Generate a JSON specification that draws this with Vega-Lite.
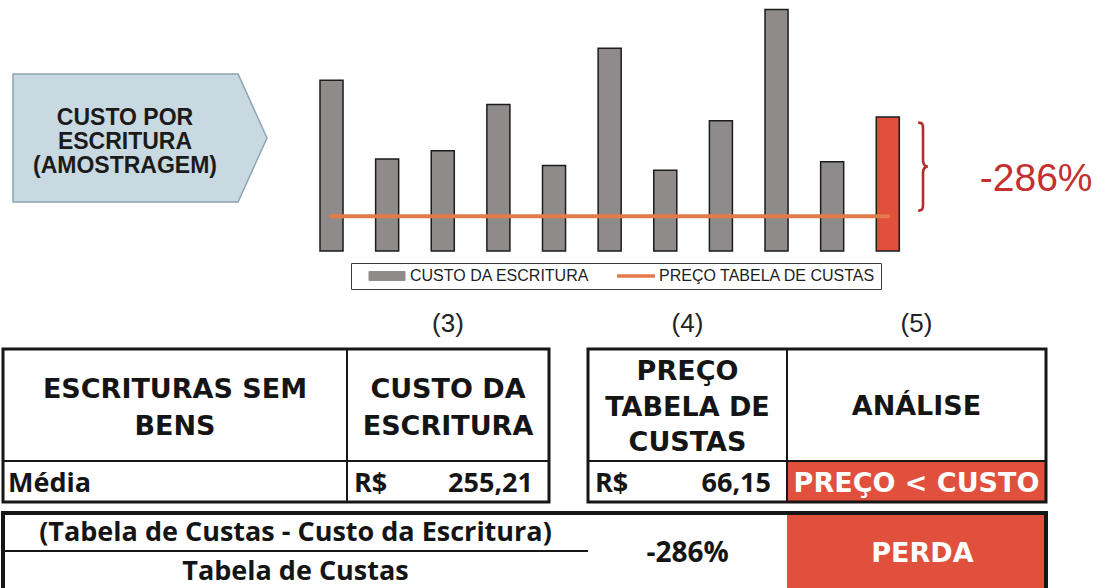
{
  "$schema": "https://vega.github.io/schema/vega-lite/v6.json",
  "width": 1105,
  "height": 588,
  "autosize": {"type": "none"},
  "padding": 0,
  "background": "#ffffff",
  "config": {"view": {"stroke": null}},
  "datasets": {
    "custos": [
      {"escritura": "Escritura 1", "custo": 325, "serie": "CUSTO DA ESCRITURA"},
      {"escritura": "Escritura 2", "custo": 175, "serie": "CUSTO DA ESCRITURA"},
      {"escritura": "Escritura 3", "custo": 191, "serie": "CUSTO DA ESCRITURA"},
      {"escritura": "Escritura 4", "custo": 279, "serie": "CUSTO DA ESCRITURA"},
      {"escritura": "Escritura 5", "custo": 163, "serie": "CUSTO DA ESCRITURA"},
      {"escritura": "Escritura 6", "custo": 386, "serie": "CUSTO DA ESCRITURA"},
      {"escritura": "Escritura 7", "custo": 154, "serie": "CUSTO DA ESCRITURA"},
      {"escritura": "Escritura 8", "custo": 248, "serie": "CUSTO DA ESCRITURA"},
      {"escritura": "Escritura 9", "custo": 460, "serie": "CUSTO DA ESCRITURA"},
      {"escritura": "Escritura 10", "custo": 170, "serie": "CUSTO DA ESCRITURA"},
      {"escritura": "Média", "custo": 255.21, "serie": "MÉDIA"}
    ],
    "tabela_preco": [
      {"serie": "PREÇO TABELA DE CUSTAS", "preco": 66.15}
    ],
    "anotacao": [
      {"referencia": "MÉDIA", "valor": 255.21, "diferenca": "-286%"},
      {"referencia": "PREÇO TABELA DE CUSTAS", "valor": 66.15, "diferenca": "-286%"}
    ],
    "rotulo": [
      {"rotulo": "CUSTO POR\nESCRITURA\n(AMOSTRAGEM)"}
    ],
    "celulas": [
      {"tabela": "1", "c0": 0, "c1": 1, "l0": 0, "l1": 1, "tipo": "cabecalho", "texto": "ESCRITURAS SEM\nBENS"},
      {"tabela": "1", "c0": 1, "c1": 2, "l0": 0, "l1": 1, "tipo": "cabecalho", "texto": "CUSTO DA\nESCRITURA", "numero": "(3)"},
      {"tabela": "1", "c0": 0, "c1": 1, "l0": 1, "l1": 2, "tipo": "rotulo", "texto": "Média"},
      {"tabela": "1", "c0": 1, "c1": 2, "l0": 1, "l1": 2, "tipo": "valor", "moeda": "R$", "valor": "255,21"},
      {"tabela": "2", "c0": 3, "c1": 4, "l0": 0, "l1": 1, "tipo": "cabecalho", "texto": "PREÇO\nTABELA DE\nCUSTAS", "numero": "(4)"},
      {"tabela": "2", "c0": 4, "c1": 5, "l0": 0, "l1": 1, "tipo": "cabecalho", "texto": "ANÁLISE", "numero": "(5)"},
      {"tabela": "2", "c0": 3, "c1": 4, "l0": 1, "l1": 2, "tipo": "valor", "moeda": "R$", "valor": "66,15"},
      {"tabela": "2", "c0": 4, "c1": 5, "l0": 1, "l1": 2, "tipo": "analise", "texto": "PREÇO < CUSTO"}
    ],
    "tabelas": [
      {"tabela": "1", "c0": 0, "c1": 2, "l0": 0, "l1": 2},
      {"tabela": "2", "c0": 3, "c1": 5, "l0": 0, "l1": 2},
      {"tabela": "3", "c0": 0, "c1": 3, "l0": 0, "l1": 2}
    ],
    "resultado": [
      {"tipo": "numerador", "texto": "(Tabela de Custas - Custo da Escritura)", "c0": 0, "c1": 1, "l0": 0, "l1": 1},
      {"tipo": "denominador", "texto": "Tabela de Custas", "c0": 0, "c1": 1, "l0": 1, "l1": 2},
      {"tipo": "resultado", "texto": "-286%", "c0": 1, "c1": 2, "l0": 0, "l1": 2},
      {"tipo": "analise", "texto": "PERDA", "c0": 2, "c1": 3, "l0": 0, "l1": 2}
    ]
  },
  "layer": [
    {
      "data": {"name": "rotulo"},
      "encoding": {
        "x": {"field": "rotulo", "type": "nominal", "axis": null, "scale": {"type": "band", "range": [13, 267], "paddingInner": 0, "paddingOuter": 0}},
        "y": {"field": "rotulo", "type": "nominal", "axis": null, "scale": {"type": "band", "range": [74, 202], "paddingInner": 0, "paddingOuter": 0}}
      },
      "layer": [
        {"mark": {"type": "point", "shape": "M-1,-0.504L0.772,-0.504L1,0L0.772,0.504L-1,0.504Z", "size": 64516, "filled": true, "fill": "#c9d9e1", "stroke": "#8ea4b1", "strokeWidth": 1.5, "opacity": 1}},
        {"mark": {"type": "text", "font": "Liberation Sans", "fontWeight": "bold", "fontSize": 23, "lineBreak": "\n", "lineHeight": 24, "color": "#1b1b1b", "align": "center", "baseline": "middle", "dx": -15, "dy": -20},
         "encoding": {"text": {"field": "rotulo"}}}
      ]
    },
    {
      "layer": [
        {
          "data": {"name": "custos"},
          "mark": {"type": "bar", "stroke": "#1c1c1c", "strokeWidth": 1.5},
          "encoding": {
            "x": {"field": "escritura", "type": "nominal", "sort": null, "axis": null,
                  "scale": {"domain": ["Escritura 1", "Escritura 2", "Escritura 3", "Escritura 4", "Escritura 5", "Escritura 6", "Escritura 7", "Escritura 8", "Escritura 9", "Escritura 10", "Média"],
                            "range": [303.7, 915.6], "paddingInner": 0.586, "paddingOuter": 0.293}},
            "y": {"field": "custo", "type": "quantitative", "axis": null, "scale": {"domain": [0, 478], "range": [251, 0], "nice": false}},
            "color": {"field": "serie", "type": "nominal",
                      "scale": {"domain": ["CUSTO DA ESCRITURA", "MÉDIA", "PREÇO TABELA DE CUSTAS"], "range": ["#8f8b8b", "#e0503d", "#e27a4a"]},
                      "legend": {
                        "orient": "none", "legendX": 351, "legendY": 263, "direction": "horizontal", "title": null,
                        "values": ["CUSTO DA ESCRITURA", "PREÇO TABELA DE CUSTAS"],
                        "labelFont": "Liberation Sans", "labelFontSize": 16, "labelColor": "#1e1e1e", "labelLimit": 400,
                        "strokeColor": "#3a3a3a", "padding": 5, "symbolSize": 256, "symbolOffset": 23, "labelOffset": 15, "columnPadding": 15,
                        "encoding": {
                          "symbols": {
                            "shape": {"value": {"expr": "datum.value === 'PREÇO TABELA DE CUSTAS' ? 'M-2.375,0H2.375' : 'M-2.25,-0.56H2.25V0.56H-2.25Z'"}},
                            "fill": {"value": {"expr": "datum.value === 'PREÇO TABELA DE CUSTAS' ? 'transparent' : '#8f8b8b'"}},
                            "stroke": {"value": {"expr": "datum.value === 'PREÇO TABELA DE CUSTAS' ? '#e27a4a' : '#222222'"}},
                            "strokeWidth": {"value": {"expr": "datum.value === 'PREÇO TABELA DE CUSTAS' ? 3.5 : 1"}},
                            "opacity": {"value": 1}
                          }
                        }
                      }}
          }
        },
        {
          "data": {"name": "tabela_preco"},
          "mark": {"type": "rule", "strokeWidth": 4},
          "encoding": {
            "x": {"datum": "Escritura 1", "bandPosition": 0.4},
            "x2": {"datum": "Média", "bandPosition": 0.6},
            "y": {"field": "preco", "type": "quantitative"},
            "color": {"field": "serie", "type": "nominal"}
          }
        },
        {
          "data": {"name": "anotacao"},
          "mark": {"type": "point", "shape": "M-0.11,-1C0,-1 0,-0.95 0,-0.85L0,-0.15C0,-0.05 0.04,0 0.11,0C0.04,0 0,0.05 0,0.15L0,0.85C0,0.95 0,1 -0.11,1", "size": 7744, "filled": false, "stroke": "#b52c2a", "strokeWidth": 2.6, "opacity": 1},
          "encoding": {
            "x": {"datum": "Média", "bandPosition": 2.03},
            "y": {"aggregate": "mean", "field": "valor", "type": "quantitative"}
          }
        },
        {
          "data": {"name": "anotacao"},
          "mark": {"type": "text", "font": "Liberation Sans", "fontSize": 39, "color": "#c3302e", "align": "left", "baseline": "middle", "dx": 92, "dy": 12},
          "encoding": {
            "x": {"datum": "Média", "bandPosition": 0.5},
            "y": {"aggregate": "mean", "field": "valor", "type": "quantitative"},
            "text": {"field": "diferenca"}
          }
        }
      ]
    },
    {
      "data": {"name": "celulas"},
      "layer": [
        {
          "mark": {"type": "rect", "stroke": "#161616", "strokeWidth": 2},
          "encoding": {
            "x": {"field": "c0", "type": "quantitative", "axis": null, "scale": {"domain": [0, 1, 2, 3, 4, 5], "range": [3, 347, 549, 588, 787, 1046], "nice": false, "zero": false}},
            "x2": {"field": "c1"},
            "y": {"field": "l0", "type": "quantitative", "axis": null, "scale": {"domain": [0, 1, 2], "range": [349, 461, 502], "nice": false, "zero": false}},
            "y2": {"field": "l1"},
            "fill": {"field": "tipo", "type": "nominal", "legend": null, "scale": {"domain": ["cabecalho", "rotulo", "valor", "analise"], "range": ["#ffffff", "#ffffff", "#ffffff", "#e0503d"]}}
          }
        },
        {
          "data": {"name": "tabelas"},
          "transform": [{"filter": "datum.tabela !== '3'"}],
          "mark": {"type": "rect", "filled": false, "stroke": "#161616", "strokeWidth": 3},
          "encoding": {
            "x": {"field": "c0", "type": "quantitative"},
            "x2": {"field": "c1"},
            "y": {"field": "l0", "type": "quantitative"},
            "y2": {"field": "l1"}
          }
        },
        {
          "transform": [{"filter": "datum.tipo === 'cabecalho' && length(split(datum.texto, '\\n')) === 1"}, {"fold": ["c0", "c1"], "as": ["ck", "cv"]}, {"fold": ["l0", "l1"], "as": ["lk", "lv"]}],
          "mark": {"type": "text", "font": "DejaVu Sans", "fontWeight": "bold", "fontSize": 27, "lineBreak": "\n", "lineHeight": 36, "color": "#151515", "align": "center", "baseline": "middle", "dy": 2},
          "encoding": {
            "x": {"aggregate": "mean", "field": "cv", "type": "quantitative"},
            "y": {"aggregate": "mean", "field": "lv", "type": "quantitative"},
            "text": {"field": "texto"}
          }
        },
        {
          "transform": [{"filter": "datum.tipo === 'cabecalho' && length(split(datum.texto, '\\n')) === 2"}, {"fold": ["c0", "c1"], "as": ["ck", "cv"]}, {"fold": ["l0", "l1"], "as": ["lk", "lv"]}],
          "mark": {"type": "text", "font": "DejaVu Sans", "fontWeight": "bold", "fontSize": 27, "lineBreak": "\n", "lineHeight": 37, "color": "#151515", "align": "center", "baseline": "middle", "dy": -15},
          "encoding": {
            "x": {"aggregate": "mean", "field": "cv", "type": "quantitative"},
            "y": {"aggregate": "mean", "field": "lv", "type": "quantitative"},
            "text": {"field": "texto"}
          }
        },
        {
          "transform": [{"filter": "datum.tipo === 'cabecalho' && length(split(datum.texto, '\\n')) === 3"}, {"fold": ["c0", "c1"], "as": ["ck", "cv"]}, {"fold": ["l0", "l1"], "as": ["lk", "lv"]}],
          "mark": {"type": "text", "font": "DejaVu Sans", "fontWeight": "bold", "fontSize": 27, "lineBreak": "\n", "lineHeight": 35.5, "color": "#151515", "align": "center", "baseline": "middle", "dy": -33},
          "encoding": {
            "x": {"aggregate": "mean", "field": "cv", "type": "quantitative"},
            "y": {"aggregate": "mean", "field": "lv", "type": "quantitative"},
            "text": {"field": "texto"}
          }
        },
        {
          "transform": [{"filter": "datum.tipo === 'analise'"}, {"fold": ["c0", "c1"], "as": ["ck", "cv"]}, {"fold": ["l0", "l1"], "as": ["lk", "lv"]}],
          "mark": {"type": "text", "font": "DejaVu Sans", "fontWeight": "bold", "fontSize": 27, "color": "#ffffff", "align": "center", "baseline": "middle", "dy": 2},
          "encoding": {
            "x": {"aggregate": "mean", "field": "cv", "type": "quantitative"},
            "y": {"aggregate": "mean", "field": "lv", "type": "quantitative"},
            "text": {"field": "texto"}
          }
        },
        {
          "transform": [{"filter": "datum.tipo === 'rotulo'"}, {"fold": ["l0", "l1"], "as": ["lk", "lv"]}],
          "mark": {"type": "text", "font": "Open Sans", "fontWeight": "bold", "fontSize": 27, "color": "#151515", "align": "left", "baseline": "middle", "dx": 5, "dy": 2},
          "encoding": {
            "x": {"field": "c0", "type": "quantitative"},
            "y": {"aggregate": "mean", "field": "lv", "type": "quantitative"},
            "text": {"field": "texto"}
          }
        },
        {
          "transform": [{"filter": "datum.tipo === 'valor'"}, {"fold": ["l0", "l1"], "as": ["lk", "lv"]}],
          "mark": {"type": "text", "font": "Open Sans", "fontWeight": "bold", "fontSize": 27, "color": "#151515", "align": "left", "baseline": "middle", "dx": 7, "dy": 2},
          "encoding": {
            "x": {"field": "c0", "type": "quantitative"},
            "y": {"aggregate": "mean", "field": "lv", "type": "quantitative"},
            "text": {"field": "moeda"}
          }
        },
        {
          "transform": [{"filter": "datum.tipo === 'valor'"}, {"fold": ["l0", "l1"], "as": ["lk", "lv"]}],
          "mark": {"type": "text", "font": "Open Sans", "fontWeight": "bold", "fontSize": 27, "color": "#151515", "align": "right", "baseline": "middle", "dx": -16, "dy": 2},
          "encoding": {
            "x": {"field": "c1", "type": "quantitative"},
            "y": {"aggregate": "mean", "field": "lv", "type": "quantitative"},
            "text": {"field": "valor"}
          }
        },
        {
          "transform": [{"filter": "isValid(datum.numero)"}, {"fold": ["c0", "c1"], "as": ["ck", "cv"]}],
          "mark": {"type": "text", "font": "Liberation Sans", "fontSize": 26, "color": "#222222", "align": "center", "baseline": "alphabetic", "dy": -17},
          "encoding": {
            "x": {"aggregate": "mean", "field": "cv", "type": "quantitative"},
            "y": {"field": "l0", "type": "quantitative"},
            "text": {"field": "numero"}
          }
        }
      ]
    },
    {
      "data": {"name": "resultado"},
      "layer": [
        {
          "transform": [{"filter": "datum.tipo === 'analise'"}],
          "mark": {"type": "rect"},
          "encoding": {
            "x": {"field": "c0", "type": "quantitative", "axis": null, "scale": {"domain": [0, 1, 2, 3], "range": [3, 588, 787, 1046], "nice": false, "zero": false}},
            "x2": {"field": "c1"},
            "y": {"field": "l0", "type": "quantitative", "axis": null, "scale": {"domain": [0, 1, 2], "range": [513, 551, 591], "nice": false, "zero": false}},
            "y2": {"field": "l1"},
            "fill": {"field": "tipo", "type": "nominal", "legend": null, "scale": {"domain": ["analise"], "range": ["#e0503d"]}}
          }
        },
        {
          "transform": [{"filter": "datum.tipo === 'numerador'"}],
          "mark": {"type": "rule", "stroke": "#161616", "strokeWidth": 2},
          "encoding": {
            "x": {"field": "c0", "type": "quantitative"},
            "x2": {"field": "c1"},
            "y": {"field": "l1", "type": "quantitative"}
          }
        },
        {
          "data": {"name": "tabelas"},
          "transform": [{"filter": "datum.tabela === '3'"}],
          "mark": {"type": "rect", "filled": false, "stroke": "#161616", "strokeWidth": 4},
          "encoding": {
            "x": {"field": "c0", "type": "quantitative"},
            "x2": {"field": "c1"},
            "y": {"field": "l0", "type": "quantitative"},
            "y2": {"field": "l1"}
          }
        },
        {
          "transform": [{"filter": "datum.tipo === 'numerador' || datum.tipo === 'denominador'"}, {"fold": ["c0", "c1"], "as": ["ck", "cv"]}, {"fold": ["l0", "l1"], "as": ["lk", "lv"]}],
          "mark": {"type": "text", "font": "Open Sans", "fontWeight": "bold", "fontSize": 27, "color": "#151515", "align": "center", "baseline": "middle", "dy": 1},
          "encoding": {
            "x": {"aggregate": "mean", "field": "cv", "type": "quantitative"},
            "y": {"aggregate": "mean", "field": "lv", "type": "quantitative"},
            "text": {"field": "texto"}
          }
        },
        {
          "transform": [{"filter": "datum.tipo === 'resultado'"}, {"fold": ["c0", "c1"], "as": ["ck", "cv"]}, {"fold": ["l0", "l1"], "as": ["lk", "lv"]}],
          "mark": {"type": "text", "font": "Open Sans", "fontWeight": "bold", "fontSize": 28, "color": "#151515", "align": "center", "baseline": "middle", "dy": 3},
          "encoding": {
            "x": {"aggregate": "mean", "field": "cv", "type": "quantitative"},
            "y": {"aggregate": "mean", "field": "lv", "type": "quantitative"},
            "text": {"field": "texto"}
          }
        },
        {
          "transform": [{"filter": "datum.tipo === 'analise'"}, {"fold": ["c0", "c1"], "as": ["ck", "cv"]}, {"fold": ["l0", "l1"], "as": ["lk", "lv"]}],
          "mark": {"type": "text", "font": "DejaVu Sans", "fontWeight": "bold", "fontSize": 27, "color": "#ffffff", "align": "center", "baseline": "middle", "dx": 6, "dy": 3},
          "encoding": {
            "x": {"aggregate": "mean", "field": "cv", "type": "quantitative"},
            "y": {"aggregate": "mean", "field": "lv", "type": "quantitative"},
            "text": {"field": "texto"}
          }
        }
      ]
    }
  ],
  "resolve": {"scale": {"x": "independent", "y": "independent", "color": "independent", "fill": "independent"}}
}
